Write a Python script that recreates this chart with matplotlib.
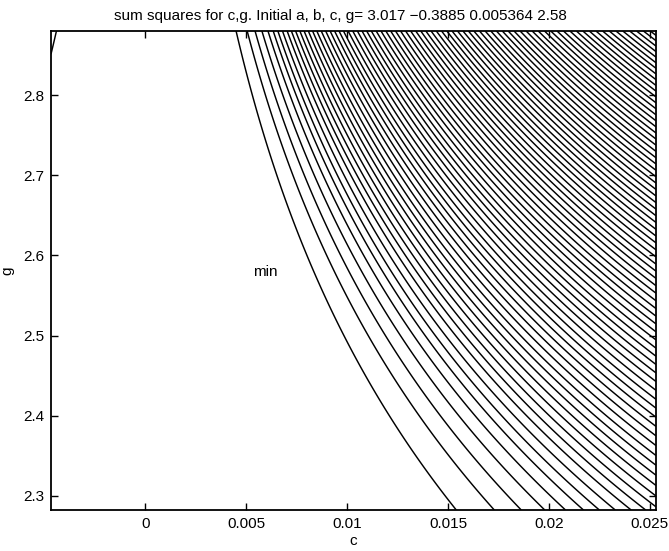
import numpy as np
import matplotlib
matplotlib.use("Agg")
import matplotlib.pyplot as plt

# ---- data ----
title_text = "sum squares for c,g. Initial a, b, c, g= 3.017 \u22120.3885 0.005364 2.58"
c_min, g_min = 0.005364, 2.58          # location of the "min" label
c_range = (-0.00467, 0.0253)
g_range = (2.2825, 2.88)
x_ticks = [0, 0.005, 0.01, 0.015, 0.02, 0.025]
x_ticklabels = ["0", "0.005", "0.01", "0.015", "0.02", "0.025"]
y_ticks = [2.3, 2.4, 2.5, 2.6, 2.7, 2.8]
y_ticklabels = ["2.3", "2.4", "2.5", "2.6", "2.7", "2.8"]

# contour curvature: each contour follows c * exp(k*(g - g_top)) = const
k_curv = 2.06
g_top = 2.88
# c-values where each contour line meets the top edge (g = 2.88)
top_crossings = [
    -0.0044,
    0.0045, 0.00505, 0.00544, 0.00578, 0.00608, 0.00634, 0.00657, 0.0068, 0.00703, 0.00724,
    0.00745, 0.00766, 0.00787, 0.00808, 0.00829, 0.0085, 0.00872, 0.00894, 0.00916, 0.00938,
    0.0096, 0.00982, 0.01005, 0.01028, 0.01051, 0.01074, 0.01097, 0.0112, 0.01144, 0.01168,
    0.01192, 0.01216, 0.0124, 0.01265, 0.0129, 0.01315, 0.0134, 0.01365, 0.0139, 0.01416,
    0.01442, 0.01468, 0.01494, 0.0152, 0.01547, 0.01574, 0.01601, 0.01628, 0.01656, 0.01684,
    0.01712, 0.0174, 0.01769, 0.01798, 0.01827, 0.01857, 0.01887, 0.01917, 0.01947, 0.01978,
    0.02009, 0.0204, 0.02072, 0.02104, 0.02136, 0.02168, 0.022, 0.02233, 0.02266, 0.02299,
    0.02332, 0.02366, 0.024, 0.02434, 0.02468, 0.02502, 0.02536,
]

plt.rcParams['font.family'] = ['Liberation Sans', 'DejaVu Sans']

fig = plt.figure(figsize=(6.69, 5.51), dpi=100)
ax = fig.add_axes([0.0762, 0.0744, 0.9043, 0.8693])

cc = np.linspace(c_range[0], c_range[1], 700)
gg = np.linspace(g_range[0], g_range[1], 500)
C, G = np.meshgrid(cc, gg)
Z = C * np.exp(k_curv * (G - g_top))

ax.contour(C, G, Z, levels=sorted(top_crossings), colors='black',
           linewidths=1.05, linestyles='solid')

ax.text(c_min, g_min, "min", ha='left', va='center', fontsize=11)

ax.set_xlim(*c_range)
ax.set_ylim(*g_range)
ax.set_xticks(x_ticks)
ax.set_xticklabels(x_ticklabels)
ax.set_yticks(y_ticks)
ax.set_yticklabels(y_ticklabels)
ax.tick_params(direction='in', top=True, right=True, length=5, width=1.0,
               labelsize=11, pad=5)
for s in ax.spines.values():
    s.set_linewidth(1.3)

ax.set_xlabel("c", fontsize=11, labelpad=2)
ax.set_ylabel("g", fontsize=11, labelpad=6)
ax.set_title(title_text, fontsize=11, pad=8, x=0.478)

fig.savefig("out.png", dpi=100)
